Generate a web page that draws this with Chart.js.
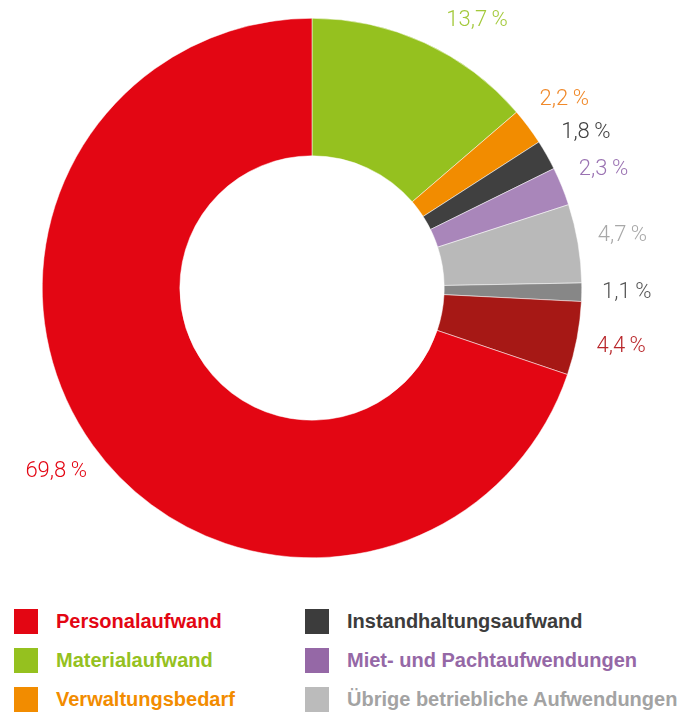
<!DOCTYPE html>
<html lang="de">
<head>
  <meta charset="UTF-8" />
  <title>Aufwendungen</title>
  <script src="https://cdn.jsdelivr.net/npm/chart.js"></script>
  <style>
    html, body { margin: 0; padding: 0; background: #fff; }
    #wrap { position: relative; width: 684px; height: 590px; }
    #legend {
      display: grid;
      grid-template-columns: 291px 380px;
      grid-template-rows: repeat(3, 39px);
      grid-auto-flow: column;
      padding-left: 14px;
      margin-top: 12px;
      font-family: "Liberation Sans", Arial, sans-serif;
      font-weight: bold;
      font-size: 20px;
    }
    .item { display: flex; align-items: center; white-space: nowrap; }
    .box { width: 24px; height: 25px; margin-right: 18px; flex: none; }
  </style>
</head>
<body>
  <div id="wrap"><canvas id="chart"></canvas></div>
  <div id="legend"></div>

  <script>
    // Slices, clockwise from 12 o'clock
    const categories = [
      'Materialaufwand',
      'Verwaltungsbedarf',
      'Instandhaltungsaufwand',
      'Miet- und Pachtaufwendungen',
      'Übrige betriebliche Aufwendungen',
      '',
      '',
      'Personalaufwand'
    ];
    const shares = [13.7, 2.2, 1.8, 2.3, 4.7, 1.1, 4.4, 69.8];
    const sliceColors = ['#95c11f', '#f28c00', '#404040', '#a986ba', '#b9b9b9', '#878787', '#a61815', '#e30613'];
    const labelColors = ['#a3c93a', '#f0892a', '#404040', '#9a72b2', '#a8a8a8', '#555555', '#b8262a', '#e30613'];
    const legendColors = ['#95c11f', '#f28c00', '#3c3c3c', '#9568a6', '#bbbbbb', null, null, '#e30613'];
    const legendTextColors = ['#95c11f', '#f28c00', '#3c3c3c', '#9568a6', '#a3a3a3', null, null, '#e30613'];
    const legendOrder = [7, 0, 1, 2, 3, 4];

    // Legend
    const legend = document.getElementById('legend');
    legendOrder.forEach(i => {
      const item = document.createElement('div');
      item.className = 'item';
      item.innerHTML = '<span class="box" style="background:' + legendColors[i] + '"></span>' +
        '<span style="color:' + legendTextColors[i] + '">' + categories[i] + '</span>';
      legend.appendChild(item);
    });

    // percentage labels outside the ring
    const outsideLabels = {
      id: 'outsideLabels',
      afterDraw(chart) {
        const ctx = chart.ctx;
        const meta = chart.getDatasetMeta(0);
        ctx.save();
        ctx.font = '300 22px Roboto, "Liberation Sans", sans-serif';
        ctx.textAlign = 'center';
        ctx.textBaseline = 'middle';
        meta.data.forEach((arc, i) => {
          const mid = (arc.startAngle + arc.endAngle) / 2;
          const r = arc.outerRadius + 45;
          let y = arc.y + r * Math.sin(mid);
          const minY = 20;
          let x;
          if (y < minY) {
            y = minY;
            const dy = y - arc.y;
            x = arc.x + Math.sqrt(r * r - dy * dy) * Math.sign(Math.cos(mid));
          } else {
            x = arc.x + r * Math.cos(mid);
          }
          ctx.fillStyle = labelColors[i];
          ctx.fillText(shares[i].toFixed(1).replace('.', ',') + '\u2009%', x, y);
        });
        ctx.restore();
      }
    };

    new Chart(document.getElementById('chart'), {
      type: 'doughnut',
      data: {
        labels: categories,
        datasets: [{
          data: shares,
          backgroundColor: sliceColors,
          borderColor: '#ffffff',
          borderWidth: 0.5
        }]
      },
      options: {
        responsive: true,
        maintainAspectRatio: false,
        animation: false,
        cutout: '49%',
        layout: { padding: { top: 18, bottom: 32, left: 42, right: 102 } },
        plugins: {
          legend: { display: false },
          tooltip: { enabled: false }
        }
      },
      plugins: [outsideLabels]
    });
  </script>
</body>
</html>
